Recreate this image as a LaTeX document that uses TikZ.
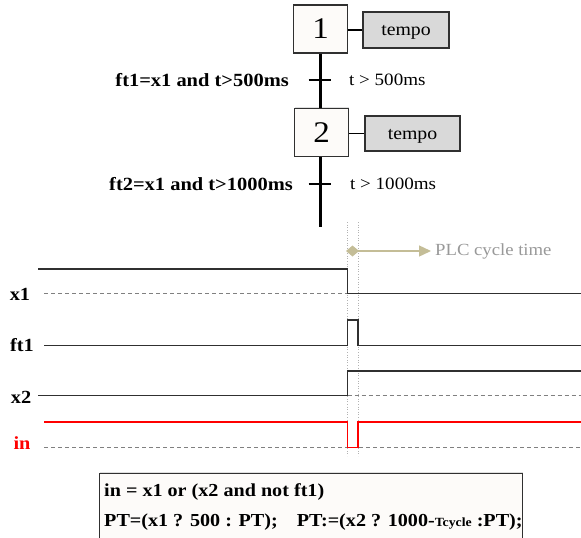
\documentclass[tikz,border=0pt]{standalone}
\usepackage{fontspec}
\setmainfont[FakeStretch=1.1]{Liberation Serif}
\usetikzlibrary{arrows.meta,shadows}
\definecolor{khaki}{HTML}{C4BD97}
\definecolor{boxgray}{HTML}{D9D9D9}
\definecolor{tracegray}{HTML}{303030}

\begin{document}
\begin{tikzpicture}[x=1pt,y=-1pt,
    stepbox/.style={draw=tracegray, line width=1.2pt, fill=white!97!brown, minimum width=54pt, minimum height=48pt, inner sep=0pt, font=\fontsize{30}{32}\selectfont, drop shadow={opacity=0.25, shadow xshift=0pt, shadow yshift=1.5pt}},
    actbox/.style={draw=tracegray, line width=1.2pt, fill=boxgray, minimum height=36pt, inner sep=0pt, text height=11pt, text depth=0pt, font=\fontsize{18}{20}\selectfont},
    cond/.style={font=\bfseries\fontsize{18.6}{20}\selectfont, inner sep=0pt},
    recept/.style={font=\fontsize{17.3}{20}\selectfont, inner sep=0pt},
    sig/.style={font=\bfseries\fontsize{18.5}{20}\selectfont, inner sep=0pt},
    trace/.style={line width=1.3pt, tracegray},
    base/.style={line width=0.7pt, gray, dash pattern=on 4pt off 3pt},
    eqtext/.style={font=\bfseries\fontsize{18.3}{20}\selectfont, inner sep=0pt, anchor=west}]
    \useasboundingbox (0,0) rectangle (581,538);

    % grafcet
    \node[stepbox] (step1) at (320.5,29) {1};
    \node[stepbox] (step2) at (321.5,132.5) {2};
    \node[actbox, minimum width=86pt] (act1) at (406,30) {tempo};
    \node[actbox, minimum width=95pt, minimum height=35pt] (act2) at (412.5,133.5) {tempo};
    \coordinate (tr1) at (320.5,80);
    \coordinate (tr2) at (320.5,184);
    \coordinate (sfcend) at (320.5,227);
    \node[cond, anchor=east] (cond1) at (289,80) {ft1=x1 and t>500ms};
    \node[cond, anchor=east] (cond2) at (293,184) {ft2=x1 and t>1000ms};
    \node[recept, anchor=west] (rec1) at (349,80) {t > 500ms};
    \node[recept, anchor=west] (rec2) at (350,184) {t > 1000ms};

    \draw[line width=3.5pt] (step1.south -| tr1) -- (step2.north -| tr1);
    \draw[line width=3.5pt] (step2.south -| tr2) -- (sfcend);
    \draw[line width=2pt] ([xshift=-12pt]tr1) -- ([xshift=10pt]tr1);
    \draw[line width=2pt] ([xshift=-12pt]tr2) -- ([xshift=10pt]tr2);
    \draw[line width=1.5pt] (step1.east |- act1) -- (act1.west);
    \draw[line width=1.5pt] (step2.east |- act2) -- (act2.west);

    % chronogram
    \draw[gray!60, line width=0.6pt, dotted] (347.5,222) -- (347.5,456);
    \draw[gray!60, line width=0.6pt, dotted] (358,222) -- (358,456);
    \node[font=\fontsize{17}{20}\selectfont, text=gray!80, inner sep=0pt, anchor=west] (plc) at (435,251) {PLC cycle time};
    \draw[khaki, line width=1.4pt, {Diamond[length=13pt,width=11pt]}-{Triangle[length=12pt,width=11pt]}] (346,251) -- ([xshift=-4pt]plc.west);

    \node[sig] (x1) at (20,294) {x1};
    \node[sig] (ft1) at (22,345) {ft1};
    \node[sig] (x2) at (21,397) {x2};
    \node[sig, text=red] (in) at (22,443) {in};

    \draw[base] (44,293.5) -- (347.5,293.5);
    \draw[trace] (38,269) -- (347.5,269) -- (347.5,293.5) -- (581,293.5);
    \draw[trace] (44,345.5) -- (347.5,345.5) -- (347.5,320) -- (358,320) -- (358,345.5) -- (581,345.5);
    \draw[base] (347.5,395.5) -- (581,395.5);
    \draw[trace] (38,395.5) -- (347.5,395.5) -- (347.5,371) -- (581,371);
    \draw[base] (44,447.5) -- (581,447.5);
    \draw[trace, red] (44,422) -- (347.5,422) -- (347.5,447.5) -- (358,447.5) -- (358,422) -- (581,422);

    % equations
    \node[draw=tracegray, line width=1.2pt, fill=white!97!brown, minimum width=423pt, minimum height=70pt, anchor=north west, drop shadow={opacity=0.25, shadow xshift=0pt, shadow yshift=2pt}] (eqbox) at (99,473) {};
    \node[eqtext] (eq1) at (104,492) {in = x1 or (x2 and not ft1)};
    \node[eqtext] (eq2) at (104,522) {PT=(x1 ? 500 : PT);\hspace{19pt}PT:=(x2 ? 1000-{\fontsize{12.5}{14}\selectfont Tcycle} :PT);};
\end{tikzpicture}
\end{document}
